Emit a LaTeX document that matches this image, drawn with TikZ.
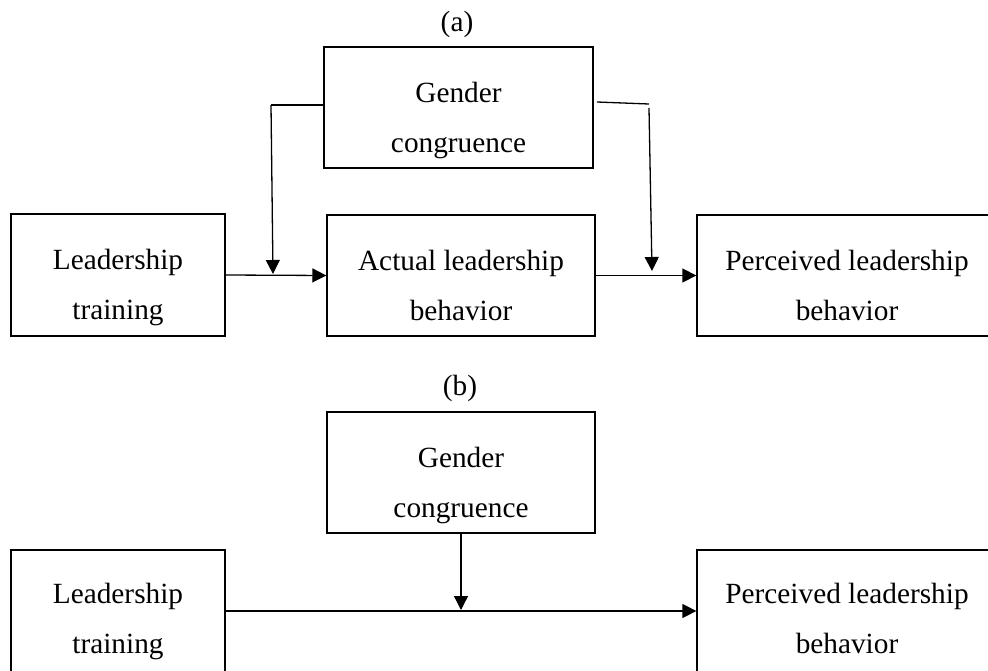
\documentclass[tikz,border=0pt]{standalone}
\usepackage{fontspec}
\setmainfont{Liberation Serif}
\usetikzlibrary{arrows.meta}
\begin{document}
\begin{tikzpicture}[x=1pt,y=-1pt,
  box/.style={draw,line width=1.3pt,rectangle,inner sep=0pt,minimum width=#1},
  txt/.style={anchor=north,align=center,inner sep=0pt,font=\fontsize{29.3}{50}\selectfont},
  lbl/.style={inner sep=0pt,font=\fontsize{29.3}{35}\selectfont},
  con/.style={line width=1.3pt},
  arr/.style={line width=1.3pt,-{Triangle[length=14pt,width=14pt]}}]
\useasboundingbox (0,0) rectangle (988,671);
% (a)
\node[lbl] (la-lab) at (457,24) {(a)};
\node[box=269pt,minimum height=121pt] (ga) at (458.5,107.5) {};
\node[box=214pt,minimum height=122pt] (la) at (118,275) {};
\node[box=268pt,minimum height=121pt] (aa) at (461,275.5) {};
\node[box=300pt,minimum height=121pt] (pa) at (847,275.5) {};
\node[txt] (ga-t) at ([yshift=-36pt]ga.north) {Gender\\congruence};
\node[txt] (la-t) at ([yshift=-36pt]la.north) {Leadership\\training};
\node[txt] (aa-t) at ([yshift=-36pt]aa.north) {Actual leadership\\behavior};
\node[txt] (pa-t) at ([yshift=-36pt]pa.north) {Perceived leadership\\behavior};
\coordinate (c1) at (271,105);
\coordinate (c1e) at (273,274);
\coordinate (c2a) at (597,102);
\coordinate (c2b) at (649,104);
\coordinate (c2c) at (649,108);
\coordinate (c2e) at (652,271);
\draw[con] (c1 -| ga.west) -- (c1);
\draw[arr] (c1) -- (c1e);
\draw[con] (c2a) -- (c2b);
\draw[arr] (c2c) -- (c2e);
\draw[arr] (la.east) -- (aa.west);
\draw[arr] (aa.east) -- (pa.west);
% (b)
\node[lbl] (lb-lab) at (460,388) {(b)};
\node[box=268pt,minimum height=121pt] (gb) at (461,472.5) {};
\node[box=214pt,minimum height=122pt] (lb) at (118,611) {};
\node[box=300pt,minimum height=122pt] (pb) at (847,611) {};
\node[txt] (gb-t) at ([yshift=-36pt]gb.north) {Gender\\congruence};
\node[txt] (lb-t) at ([yshift=-34pt]lb.north) {Leadership\\training};
\node[txt] (pb-t) at ([yshift=-34pt]pb.north) {Perceived leadership\\behavior};
\coordinate (h) at (461,610);
\draw[arr] (gb.south) -- (gb.south |- h);
\draw[arr] (lb.east) -- (pb.west);
\end{tikzpicture}
\end{document}
